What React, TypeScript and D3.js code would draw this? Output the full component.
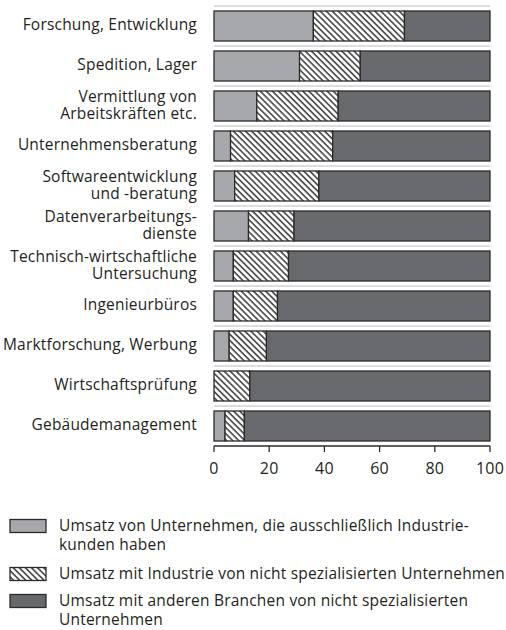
import React from 'react';
import * as d3 from 'd3';

// Branchen (von oben nach unten), Zeilenumbrueche wie im Original
const categories = [
  'Forschung, Entwicklung',
  'Spedition, Lager',
  'Vermittlung von|Arbeitskräften etc.',
  'Unternehmensberatung',
  'Softwareentwicklung|und -beratung',
  'Datenverarbeitungs-|dienste',
  'Technisch-wirtschaftliche|Untersuchung',
  'Ingenieurbüros',
  'Marktforschung, Werbung',
  'Wirtschaftsprüfung',
  'Gebäudemanagement',
];

// Anteile in %
const exclusiveIndustry = [36, 31, 15.5, 6, 7.5, 12.5, 7, 7, 5.5, 0, 4];
const industryNonSpecial = [33, 22, 29.5, 37, 30.5, 16.5, 20, 16, 13.5, 13, 7];
const otherNonSpecial = [31, 47, 55, 57, 62, 71, 73, 77, 81, 87, 89];

const xTicks = [0, 20, 40, 60, 80, 100];

const legendLabels = [
  'Umsatz von Unternehmen, die ausschließlich Industrie-|kunden haben',
  'Umsatz mit Industrie von nicht spezialisierten Unternehmen',
  'Umsatz mit anderen Branchen von nicht spezialisierten|Unternehmen',
];

const keys = ['a', 'b', 'c'];
const fills = ['#a7a8ab', 'url(#hatch)', '#68696c'];
const FONT = '"Open Sans", sans-serif';
const TEXT = '#231f20';
const STROKE = '#2b2b2b';

export default function App() {
  const width = 506;
  const height = 630;

  const rows = categories.map((c, i) => ({
    cat: c,
    a: exclusiveIndustry[i],
    b: industryNonSpecial[i],
    c: otherNonSpecial[i],
  }));
  const series = d3.stack<any>().keys(keys)(rows);

  const x = d3.scaleLinear().domain([0, 100]).range([214, 490]);
  const y = d3.scaleBand()
    .domain(categories)
    .range([6, 446])
    .paddingInner(0.25)
    .paddingOuter(0.125);
  const step = y.step();
  const bw = y.bandwidth();

  const legendY = [526, 574, 601];

  return (
    <svg width={width} height={height} style={{ position: 'absolute', left: 0, top: 0 }}
      fontFamily={FONT} letterSpacing={0.2}>
      <defs>
        <pattern id="hatch" patternUnits="userSpaceOnUse" width={4.3} height={4.3}
          patternTransform="rotate(45)">
          <rect width={4.3} height={4.3} fill="#fff" />
          <line x1={0} y1={0.8} x2={4.3} y2={0.8} stroke="#1a1a1a" strokeWidth={1.3} />
        </pattern>
      </defs>

      {/* Trennlinien */}
      {categories.map((c) => (
        <line key={'sep' + c} x1={x(0)} x2={x(100)}
          y1={(y(c) as number) - step * 0.125} y2={(y(c) as number) - step * 0.125}
          stroke="#d2d3d5" strokeWidth={1.5} />
      ))}

      {/* Balken */}
      {series.map((s, si) => (
        <g key={s.key}>
          {s.map((d, i) => (
            d[1] - d[0] > 0 ? (
              <rect key={i} x={x(d[0])} y={y(categories[i])}
                width={x(d[1]) - x(d[0])} height={bw}
                fill={fills[si]} stroke={STROKE} strokeWidth={1.3} />
            ) : null
          ))}
        </g>
      ))}

      {/* Kategorienbeschriftung */}
      {categories.map((c) => {
        const lines = c.split('|');
        const cy = (y(c) as number) + bw / 2 - 1;
        return (
          <text key={'lab' + c} x={197} textAnchor="end" fontSize={15.5} fill={TEXT}>
            {lines.map((l, j) => (
              <tspan key={j} x={197} y={cy + (j - (lines.length - 1) / 2) * 16.5} dy="0.35em">{l}</tspan>
            ))}
          </text>
        );
      })}

      {/* x-Achse */}
      <g>
        <line x1={x(0)} x2={x(100)} y1={446} y2={446} stroke={STROKE} strokeWidth={1.3} />
        {xTicks.map((t) => (
          <g key={t} transform={`translate(${x(t)},0)`}>
            <line y1={446} y2={452} stroke={STROKE} strokeWidth={1.3} />
            <text y={468} dy="0.35em" textAnchor="middle" fontSize={16} fill={TEXT}>{t}</text>
          </g>
        ))}
      </g>

      {/* Legende */}
      {legendLabels.map((l, i) => {
        const lines = l.split('|');
        const ly = legendY[i];
        return (
          <g key={'leg' + i}>
            <rect x={10} y={ly - 6.5} width={36} height={13} fill={fills[i]}
              stroke={STROKE} strokeWidth={1.3} />
            <text fontSize={15.5} fill={TEXT}>
              {lines.map((t, j) => (
                <tspan key={j} x={59} y={ly + j * 18.5} dy="0.35em">{t}</tspan>
              ))}
            </text>
          </g>
        );
      })}
    </svg>
  );
}
